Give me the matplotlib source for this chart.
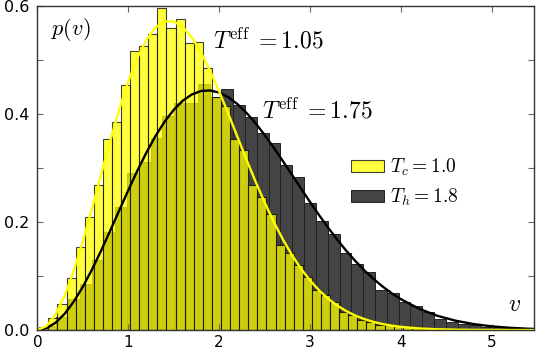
import numpy as np
import matplotlib
matplotlib.use("Agg")
import matplotlib.pyplot as plt

plt.rcParams['mathtext.fontset'] = 'cm'

# histogram of the cold bath speeds (T_c = 1.0)
cold_bin_start = 0.02
cold_bin_width = 0.1
cold_heights = [0.006, 0.022, 0.049, 0.096, 0.153, 0.209, 0.269, 0.353, 0.386, 0.454,
                0.517, 0.526, 0.548, 0.596, 0.559, 0.576, 0.532, 0.534, 0.485, 0.432,
                0.414, 0.353, 0.334, 0.269, 0.247, 0.215, 0.157, 0.142, 0.120, 0.099,
                0.074, 0.065, 0.052, 0.034, 0.028, 0.019, 0.015, 0.009, 0.009, 0.007,
                0.005, 0.003, 0.002, 0.002, 0.001, 0.001, 0.001, 0.0005]

# histogram of the hot bath speeds (T_h = 1.8)
hot_bin_start = 0.075
hot_bin_width = 0.13
hot_heights = [0.008, 0.024, 0.057, 0.086, 0.130, 0.182, 0.228, 0.290, 0.312, 0.355,
               0.396, 0.420, 0.420, 0.456, 0.432, 0.446, 0.417, 0.395, 0.364, 0.346,
               0.306, 0.284, 0.236, 0.202, 0.178, 0.142, 0.123, 0.107, 0.075, 0.069,
               0.052, 0.044, 0.034, 0.020, 0.015, 0.011, 0.009, 0.006, 0.005, 0.004,
               0.003, 0.002]

# fitted curves, T_eff = 1.05 and 1.75
curve_v = [round(0.1 * i, 1) for i in range(41)]
cold_curve_v = curve_v + [4.2, 4.4, 4.6, 4.8, 5.0, 5.5]
cold_curve_p = [0, .0074, .0291, .0639, .1100, .1646, .2249, .2878, .3499, .4084,
                .4607, .5043, .5379, .5605, .5715, .5715, .5610, .5414, .5137, .4798,
                .4417, .4006, .3582, .3158, .2751, .2364, .2005, .1681, .1390, .1137,
                .0918, .0734, .0579, .0452, .0349, .0266, .0201, .0149, .0110, .0081,
                .0058, .0029, .0014, .0007, .0003, .0001, 0]
hot_curve_v = curve_v + [4.2, 4.4, 4.6, 4.8, 5.0, 5.2, 5.4, 5.6]
hot_curve_p = [0, .0034, .0136, .0302, .0527, .0802, .1120, .1468, .1837, .2215,
               .2590, .2952, .3289, .3595, .3859, .4078, .4247, .4363, .4426, .4436,
               .4397, .4312, .4185, .4022, .3830, .3613, .3378, .3131, .2877, .2622,
               .2371, .2127, .1893, .1672, .1465, .1275, .1101, .0944, .0804, .0680,
               .0571, .0394, .0264, .0173, .0110, .0068, .0041, .0024, .0014]

fig = plt.figure(figsize=(5.37, 3.51), dpi=100)
ax = fig.add_axes([0.0698, 0.0598, 0.9237, 0.9231])

hot_edges = hot_bin_start + hot_bin_width * np.arange(len(hot_heights))
cold_edges = cold_bin_start + cold_bin_width * np.arange(len(cold_heights))

hot_bars = ax.bar(hot_edges, hot_heights, width=hot_bin_width, align='edge',
                  color='#444444', edgecolor='#222222', linewidth=0.7,
                  label=r'$T_h{=}1.8$')
cold_bars = ax.bar(cold_edges, cold_heights, width=cold_bin_width, align='edge',
                   color='yellow', alpha=0.75, edgecolor='black', linewidth=0.8,
                   label=r'$T_c{=}1.0$')

ax.plot(hot_curve_v, hot_curve_p, color='black', lw=1.7)
ax.plot(cold_curve_v, cold_curve_p, color='yellow', lw=1.7)

ax.text(1.935, 0.522, r'$T^{\rm eff}\;{=}1.05$', fontsize=17, ha='left', va='baseline')
ax.text(2.472, 0.392, r'$T^{\rm eff}\;{=}1.75$', fontsize=17, ha='left', va='baseline')
ax.text(0.37, 0.557, r'$p(v)$', fontsize=16, ha='center', va='center')
ax.text(5.25, 0.048, r'$v$', fontsize=17, ha='center', va='center')

ax.legend(handles=[cold_bars, hot_bars], loc='upper left', bbox_to_anchor=(0.633, 0.535),
          frameon=False, fontsize=14, handlelength=1.65, handleheight=0.6,
          handletextpad=0.35, labelspacing=0.45, borderpad=0, borderaxespad=0)

ax.set_xlim(0, 5.46)
ax.set_ylim(0, 0.6)
ax.set_xticks([0, 1, 2, 3, 4, 5])
ax.set_yticks([0.0, 0.2, 0.4, 0.6])
ax.set_yticklabels(['0.0', '0.2', '0.4', '0.6'])
ax.set_yticks([0.1, 0.3, 0.5], minor=True)
ax.tick_params(which='both', direction='in', top=True, right=True, length=4,
               width=0.8, color='#666666', labelsize=11.5)
ax.tick_params(axis='y', pad=6)
ax.tick_params(axis='x', pad=3.5, labelsize=11)
for side in ax.spines:
    ax.spines[side].set_color('#333333')
    ax.spines[side].set_linewidth(1.0)

fig.savefig('out.png', dpi=100)
